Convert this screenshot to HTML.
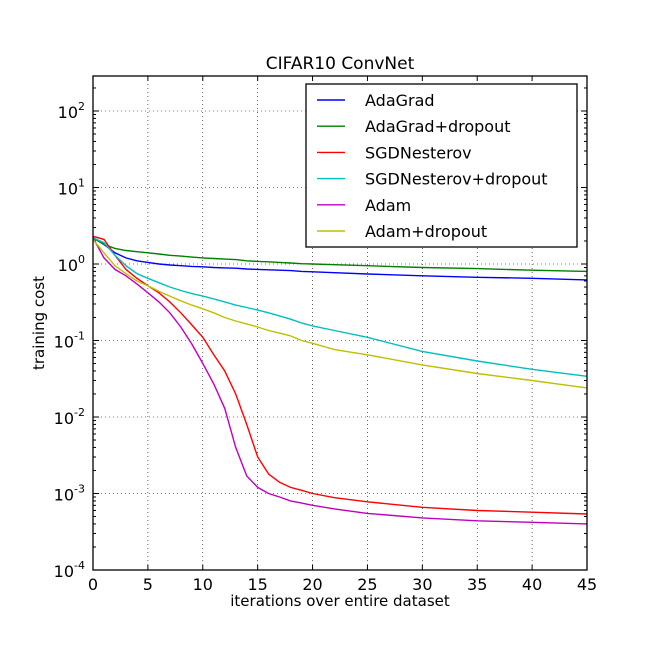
<!DOCTYPE html>
<html><head><meta charset="utf-8"><style>
body{margin:0;background:#fff;}
svg{display:block;font-family:"DejaVu Sans","Liberation Sans",sans-serif;}
</style></head><body>
<svg id="chart" width="662" height="654"></svg>
<script>
const iterations=[0,1,2,3,4,5,6,7,8,9,10,11,12,13,14,15,16,17,18,19,20,22,25,30,35,40,45];
const seriesNames=["AdaGrad","AdaGrad+dropout","SGDNesterov","SGDNesterov+dropout","Adam","Adam+dropout"];
const colors=["#0000ff","#007f00","#ff0000","#00bfbf","#bf00bf","#bfbf00"];
const adagrad=[2.2,1.8,1.4,1.2,1.1,1.05,1.0,0.97,0.95,0.93,0.92,0.9,0.89,0.88,0.86,0.85,0.84,0.83,0.82,0.8,0.79,0.77,0.74,0.7,0.67,0.65,0.62];
const adagradDrop=[2.2,1.8,1.6,1.5,1.45,1.4,1.35,1.3,1.27,1.23,1.2,1.18,1.16,1.14,1.1,1.08,1.07,1.05,1.03,1.01,1.0,0.98,0.95,0.9,0.87,0.83,0.8];
const sgd=[2.3,2.1,1.3,0.85,0.65,0.52,0.42,0.32,0.23,0.16,0.11,0.065,0.04,0.02,0.008,0.003,0.0018,0.0014,0.0012,0.0011,0.001,0.00088,0.00078,0.00066,0.0006,0.00057,0.00054];
const sgdDrop=[2.2,1.9,1.3,0.95,0.75,0.65,0.57,0.5,0.45,0.41,0.38,0.35,0.32,0.29,0.27,0.25,0.23,0.21,0.19,0.17,0.155,0.135,0.11,0.072,0.054,0.042,0.034];
const adam=[2.2,1.2,0.85,0.7,0.55,0.42,0.32,0.23,0.15,0.09,0.05,0.027,0.013,0.004,0.0017,0.0012,0.001,0.0009,0.0008,0.00075,0.0007,0.00063,0.00055,0.00048,0.00044,0.00042,0.0004];
const adamDrop=[2.1,1.4,0.95,0.75,0.6,0.52,0.44,0.38,0.33,0.29,0.26,0.23,0.2,0.18,0.165,0.15,0.135,0.125,0.115,0.1,0.092,0.076,0.065,0.048,0.037,0.03,0.024];
const allSeries=[adagrad,adagradDrop,sgd,sgdDrop,adam,adamDrop];
const xTicks=[0,5,10,15,20,25,30,35,40,45];
const yTickExps=[2,1,0,-1,-2,-3,-4];

const NS="http://www.w3.org/2000/svg";
const svg=document.getElementById('chart');
const L=93,R=587,T=76,B=570;
const yMinLog=-4,decPx=76.5;
function sx(v){return L+(v-0)/45*(R-L);}
function sy(v){return B-(Math.log10(v)-yMinLog)*decPx;}
function mk(tag,attrs,parent){const e=document.createElementNS(NS,tag);for(const k in attrs)e.setAttribute(k,attrs[k]);(parent||svg).appendChild(e);return e;}

xTicks.forEach(t=>{
  if(t>0&&t<45){const g=mk('line',{x1:sx(t),x2:sx(t),y1:T,y2:B,stroke:'#000','stroke-width':0.6,'stroke-dasharray':'1,3'});
  
  }
  const tl=mk('text',{x:sx(t),y:B+20,'text-anchor':'middle','font-size':16});
  tl.textContent=t;
  
  
  mk('line',{x1:sx(t),x2:sx(t),y1:B,y2:B-5,stroke:'#000'});
  mk('line',{x1:sx(t),x2:sx(t),y1:T,y2:T+5,stroke:'#000'});
});
yTickExps.forEach(e=>{
  const y=sy(Math.pow(10,e));
  if(e>-4){const g=mk('line',{x1:L,x2:R,y1:y,y2:y,stroke:'#000','stroke-width':0.6,'stroke-dasharray':'1,3'});
  
  }
  mk('line',{x1:L,x2:L+6,y1:y,y2:y,stroke:'#000'});
  mk('line',{x1:R,x2:R-6,y1:y,y2:y,stroke:'#000'});
  for(let m=2;m<10;m++){const yy=sy(m*Math.pow(10,e));if(yy>=T&&yy<=B){mk('line',{x1:L,x2:L+3,y1:yy,y2:yy,stroke:'#000'});mk('line',{x1:R,x2:R-3,y1:yy,y2:yy,stroke:'#000'});}}
  const tl=mk('text',{x:L-8,y:y+7,'text-anchor':'end','font-size':16});
  tl.innerHTML='10<tspan dy="-8" font-size="11">'+e+'</tspan>';
  
  
});
allSeries.forEach((s,i)=>{
  const d=s.map((v,j)=>(j?'L':'M')+sx(iterations[j]).toFixed(1)+','+sy(v).toFixed(1)).join('');
  const p=mk('path',{d:d,fill:'none',stroke:colors[i],'stroke-width':1.4});
  
  
});
const frame=mk('rect',{x:L,y:T,width:R-L,height:B-T,fill:'none',stroke:'#000','stroke-width':1.3});


const lg=mk('g',{});


mk('rect',{x:306,y:84,width:271,height:163,fill:'#fff',stroke:'#000','stroke-width':1.3},lg);
seriesNames.forEach((n,i)=>{
  const y=100+i*26.2;
  mk('line',{x1:317,x2:345,y1:y,y2:y,stroke:colors[i],'stroke-width':1.4},lg);
  const t=mk('text',{x:365,y:y+6,'font-size':16},lg);
  t.textContent=n;
  
  
});
const title=mk('text',{x:(L+R)/2,y:69,'text-anchor':'middle','font-size':17});
title.textContent='CIFAR10 ConvNet';


const xt=mk('text',{x:(L+R)/2,y:606,'text-anchor':'middle','font-size':15});
xt.textContent='iterations over entire dataset';


const yt=mk('text',{x:0,y:0,'text-anchor':'middle','font-size':15,transform:'translate(44,'+((T+B)/2)+') rotate(-90)'});
yt.textContent='training cost';


</script>
</body></html>
